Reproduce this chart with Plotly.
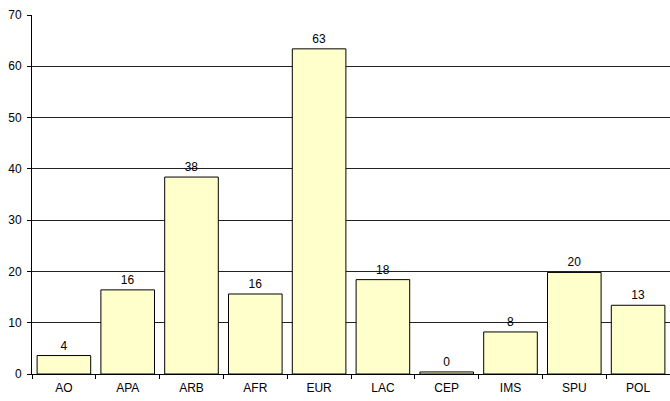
import plotly.graph_objects as go

categories = ["AO", "APA", "ARB", "AFR", "EUR", "LAC", "CEP", "IMS", "SPU", "POL"]
values = [3.6, 16.4, 38.4, 15.6, 63.4, 18.4, 0.4, 8.2, 19.8, 13.4]

fig = go.Figure(go.Bar(
    x=categories, y=values,
    marker=dict(color="#FFFFCC", line=dict(color="black", width=1)),
    texttemplate="%{y:.0f}", textposition="outside",
    textfont=dict(family="Liberation Sans, Arial", size=12, color="black"),
    cliponaxis=False, width=0.84,
))
fig.update_layout(
    width=670, height=401,
    margin=dict(l=32, r=0, t=15, b=27),
    plot_bgcolor="white", paper_bgcolor="white",
    font=dict(family="Liberation Sans, Arial", size=12, color="black"),
    showlegend=False,
)
fig.update_yaxes(range=[0, 70], dtick=10, showgrid=True, gridcolor="#222", gridwidth=1,
                 showline=True, linecolor="black", ticks="outside", ticklen=4, tickcolor="black",
                 zeroline=False, automargin=False, ticklabelstandoff=3)
fig.update_xaxes(showline=True, linecolor="black", ticks="outside", ticklen=4, tickcolor="black",
                 tickson="boundaries", showgrid=False, automargin=False, ticklabelstandoff=3)
fig.write_html("out.html", post_script="document.body.style.margin='0';",
               config={"displayModeBar": False})
